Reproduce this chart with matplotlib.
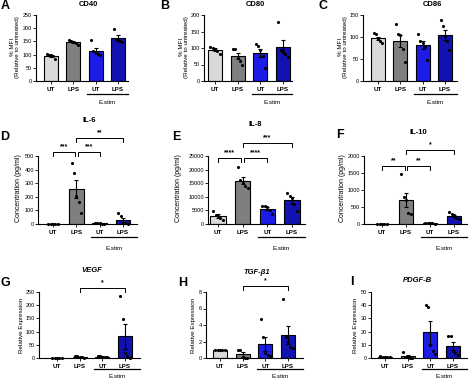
import numpy as np
import matplotlib.pyplot as plt

plt.rcParams['font.family'] = ['Liberation Sans', 'DejaVu Sans']

W, H = 474, 382

groups = ['UT', 'LPS', 'UT', 'LPS']
colors = ['#d9d9d9', '#7f7f7f', '#1c1ce6', '#1212b0']

# ---- data ----
cd40_mean = [95, 147, 115, 162]
cd40_sem = [4, 4, 9, 11]
cd40_pts = [[102, 100, 97, 93, 82], [155, 151, 148, 145, 138],
            [155, 112, 106, 104, 100], [197, 160, 155, 150, 148]]

cd80_mean = [95, 75, 86, 104]
cd80_sem = [4, 9, 12, 20]
cd80_pts = [[103, 101, 98, 92, 82], [98, 98, 70, 60, 48],
            [113, 107, 95, 75, 40], [180, 95, 90, 82, 72]]

cd86_mean = [97, 91, 82, 105]
cd86_sem = [4, 14, 10, 12]
cd86_pts = [[108, 107, 96, 91, 86], [130, 106, 104, 72, 44],
            [107, 92, 86, 78, 48], [139, 124, 102, 92, 70]]

il6_mean = [2, 257, 5, 31]
il6_sem = [1, 68, 1, 16]
il6_pts = [[3, 2, 1, 1, 0], [452, 376, 208, 165, 84],
           [8, 6, 5, 3, 2], [80, 60, 10, 5, 0]]

il8_mean = [2900, 15950, 5600, 8650]
il8_sem = [600, 1300, 600, 1250]
il8_pts = [[4600, 3300, 3000, 2200, 1400], [20800, 16200, 15200, 14100, 13400],
           [6800, 6500, 6200, 5000, 3600], [11400, 10400, 9400, 7400, 4600]]

il10_mean = [0, 716, 20, 239]
il10_sem = [0, 210, 4, 35]
il10_pts = [[2, 1, 1, 0, 0], [1480, 780, 700, 330, 290],
            [30, 25, 20, 15, 10], [340, 280, 250, 180, 145]]

vegf_mean = [1, 4, 5, 82]
vegf_sem = [0, 1, 1, 47]
vegf_pts = [[1, 1, 1, 1, 1], [7, 6, 4, 2, 1],
            [8, 7, 5, 3, 2], [235, 146, 20, 8, 1]]

tgf_mean = [1.0, 0.44, 1.71, 2.83]
tgf_sem = [0.02, 0.26, 0.85, 1.08]
tgf_pts = [[1.0, 1.0, 1.0, 1.0, 1.0], [1.0, 1.0, 0.1, 0.06, 0.04],
           [4.7, 2.6, 0.6, 0.4, 0.25], [7.1, 2.5, 2.0, 1.3, 1.25]]

pdgf_mean = [1.0, 1.2, 19.4, 8.8]
pdgf_sem = [0.1, 0.8, 8.6, 3.0]
pdgf_pts = [[1.2, 1.0, 1.0, 0.9, 0.9], [4.4, 1.0, 0.4, 0.2, 0.2],
            [40, 39, 10, 5, 3], [17, 16.5, 5, 3.5, 2]]

fig = plt.figure(figsize=(W / 100, H / 100), dpi=100)


def ftext(x, y, s, **kw):
    fig.text(x / W, 1 - y / H, s, ha='center', va='center', **kw)


def panel(box, bar_px, ymax, ystep, means, sems, pts, line_y, label_y, brackets=()):
    l, r, t, b = box
    ax = fig.add_axes([l / W, 1 - b / H, (r - l) / W, (b - t) / H])
    unit = (bar_px[1] - bar_px[0]) / 3
    ax.set_xlim(-(bar_px[0] - l) / unit, 3 + (r - bar_px[1]) / unit)
    ax.set_ylim(0, ymax)
    x = np.arange(4)
    ax.bar(x, means, width=0.62, color=colors, edgecolor='black', linewidth=0.8, zorder=1)
    ax.errorbar(x, means, yerr=sems, fmt='none', ecolor='black', elinewidth=0.8,
                capsize=1.6, capthick=0.8, zorder=2)
    for i, p in enumerate(pts):
        off = np.linspace(-0.2, 0.2, len(p))
        ax.scatter(i + off, p, s=5, color='black', linewidths=0, zorder=3, clip_on=False)
    ax.set_xticks(x)
    ax.set_xticklabels(groups, fontsize=4.5, fontweight='bold')
    ax.set_yticks(np.arange(0, ymax + ystep / 2, ystep))
    ax.tick_params(axis='y', labelsize=4, length=2, width=0.6, pad=1)
    ax.tick_params(axis='x', length=2, width=0.6, pad=2)
    for s in ['top', 'right']:
        ax.spines[s].set_visible(False)
    for s in ['left', 'bottom']:
        ax.spines[s].set_linewidth(0.8)

    tr = ax.get_xaxis_transform()
    hgt = b - t
    xe = ax.get_xlim()[1]
    yl = (b - line_y) / hgt
    ax.plot([1.62, xe], [yl, yl], color='black', lw=0.9, transform=tr, clip_on=False)
    ax.text((1.62 + xe) / 2, (b - label_y) / hgt, 'E.stim', transform=tr,
            ha='center', va='center', fontsize=4.5)

    for x0, x1, yb, s in brackets:
        yf = (b - yb) / hgt
        tk = 4 / hgt
        ax.plot([x0, x0, x1, x1], [yf - tk, yf, yf, yf - tk], color='black', lw=0.7,
                transform=tr, clip_on=False)
        ax.text((x0 + x1) / 2, yf + 1.5 / hgt, s, transform=tr, ha='center', va='bottom',
                fontsize=5, fontweight='bold')
    return ax


# row 1
panel((36, 128, 15, 81), (51, 118), 250, 50, cd40_mean, cd40_sem, cd40_pts, 94, 103)
panel((204, 292, 15, 81), (215, 283), 200, 50, cd80_mean, cd80_sem, cd80_pts, 94, 103)
panel((363, 457, 15, 81), (378, 445), 150, 50, cd86_mean, cd86_sem, cd86_pts, 94, 103)

# row 2
panel((38, 137, 156, 224), (53, 123), 500, 100, il6_mean, il6_sem, il6_pts, 237, 249,
      [(0, 0.94, 152, '***'), (1.06, 2, 152, '***'), (1, 3, 138, '**')])
panel((208, 305, 156, 224), (218, 292), 25000, 5000, il8_mean, il8_sem, il8_pts, 237, 249,
      [(0, 0.94, 158, '****'), (1.06, 2, 158, '****'), (1, 3, 143, '***')])
panel((364, 467, 156, 224), (382, 454), 2000, 500, il10_mean, il10_sem, il10_pts, 237, 249,
      [(0, 0.94, 166, '**'), (1.06, 2, 166, '**'), (1, 3, 150, '*')])

# row 3
panel((39, 140, 292, 358), (57, 125), 250, 50, vegf_mean, vegf_sem, vegf_pts, 369, 377,
      [(1, 3, 288, '*')])
panel((206, 303, 292, 358), (220, 288), 8, 2, tgf_mean, tgf_sem, tgf_pts, 369, 377,
      [(1, 3, 286, '*')])
panel((371, 467, 292, 358), (385, 453), 50, 10, pdgf_mean, pdgf_sem, pdgf_pts, 369, 377)

# titles
ftext(88, 5, 'CD40', fontsize=5.5, fontweight='bold')
ftext(255, 5, 'CD80', fontsize=5.5, fontweight='bold')
ftext(432, 5, 'CD86', fontsize=5.5, fontweight='bold')
ftext(89, 120, 'IL-6', fontsize=5.5, fontweight='bold')
ftext(255, 125, 'IL-8', fontsize=5.5, fontweight='bold')
ftext(418, 132, 'IL-10', fontsize=5.5, fontweight='bold')
ftext(92, 271, 'VEGF', fontsize=5.5, fontweight='bold', fontstyle='italic')
ftext(257, 273, 'TGF-β1', fontsize=5.5, fontweight='bold', fontstyle='italic')
ftext(417, 281, 'PDGF-B', fontsize=5.5, fontweight='bold', fontstyle='italic')

# panel letters
for s, x, y in [('A', 5, 6), ('B', 165, 6), ('C', 323, 6),
                ('D', 5, 137), ('E', 176, 137), ('F', 340, 135),
                ('G', 5, 283), ('H', 183, 283), ('I', 352, 282)]:
    ftext(x, y, s, fontsize=9, fontweight='bold')

# y labels
ylab1 = '% MFI\n(Relative to untreated)'
for x in (15, 184, 343):
    ftext(x, 47, ylab1, fontsize=4.5, rotation=90, linespacing=1.1)
for x in (19, 178, 343):
    ftext(x, 188, 'Concentration (pg/ml)', fontsize=5, rotation=90)
for x in (21, 193, 356):
    ftext(x, 325, 'Relative Expression', fontsize=4.5, rotation=90)

fig.savefig('out.png', dpi=100)
